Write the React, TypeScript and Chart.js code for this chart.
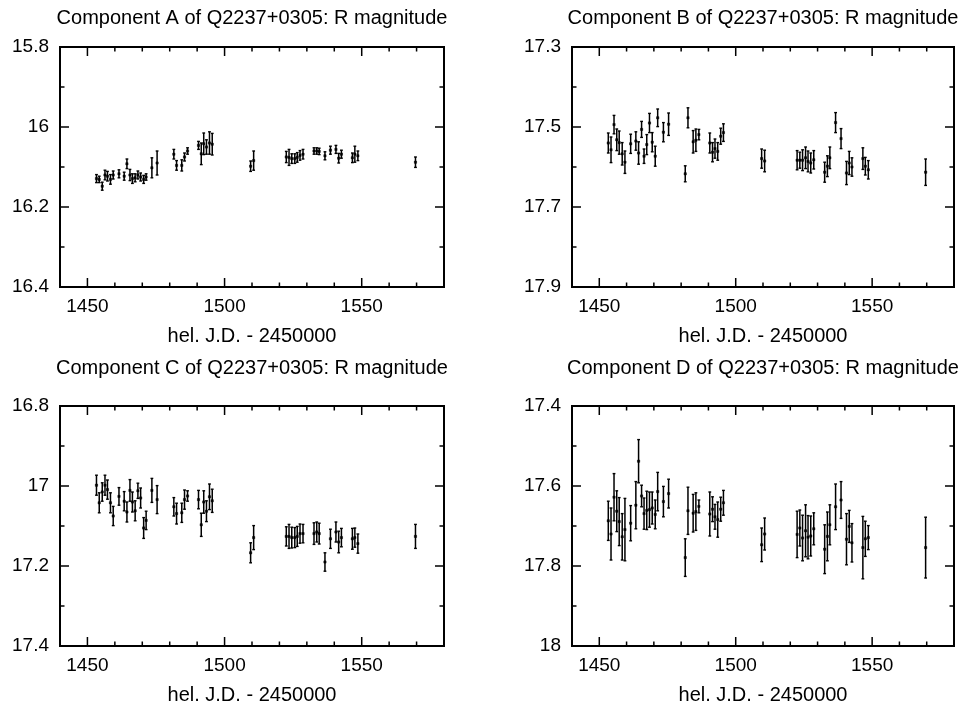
import React, { useEffect, useRef } from "react";
import { Chart, registerables } from "chart.js";
Chart.register(...registerables);

// ---------- data ----------
const jd = [
  1453.3, 1454.3, 1455.4, 1456.4, 1457.3, 1458.4, 1459.4, 1461.5, 1463.4, 1464.4,
  1465.5, 1466.4, 1467.4, 1468.4, 1469.4, 1470.5, 1471.4, 1473.5, 1475.4, 1481.5,
  1482.5, 1484.4, 1485.4, 1486.5, 1490.5, 1491.5, 1492.4, 1493.4, 1494.5, 1495.5,
  1509.5, 1510.6, 1522.5, 1523.5, 1524.5, 1525.6, 1526.5, 1527.5, 1528.6, 1532.6,
  1533.6, 1534.5, 1536.6, 1538.6, 1540.6, 1541.6, 1542.6, 1546.6, 1547.5, 1548.6,
  1569.6,
];

const magA = [
  16.129, 16.131, 16.148, 16.120, 16.123, 16.131, 16.120, 16.117, 16.123, 16.092,
  16.120, 16.129, 16.127, 16.120, 16.125, 16.131, 16.125, 16.102, 16.090, 16.068,
  16.096, 16.096, 16.075, 16.060, 16.046, 16.067, 16.042, 16.050, 16.040, 16.043,
  16.098, 16.084, 16.075, 16.076, 16.079, 16.079, 16.076, 16.071, 16.068, 16.060,
  16.060, 16.061, 16.072, 16.058, 16.056, 16.078, 16.068, 16.077, 16.068, 16.072,
  16.088,
];
const errA = [
  0.010, 0.008, 0.010, 0.012, 0.012, 0.012, 0.010, 0.010, 0.010, 0.012,
  0.014, 0.012, 0.010, 0.010, 0.010, 0.010, 0.008, 0.025, 0.030, 0.012,
  0.012, 0.014, 0.010, 0.008, 0.010, 0.027, 0.027, 0.018, 0.028, 0.027,
  0.013, 0.024, 0.014, 0.020, 0.012, 0.012, 0.012, 0.012, 0.012, 0.008,
  0.008, 0.008, 0.010, 0.010, 0.010, 0.012, 0.010, 0.012, 0.020, 0.012,
  0.013,
];

const magB = [
  17.540, 17.557, 17.494, 17.532, 17.539, 17.567, 17.588, 17.542, 17.535, 17.565,
  17.506, 17.573, 17.544, 17.490, 17.538, 17.573, 17.477, 17.513, 17.493, 17.617,
  17.477, 17.537, 17.533, 17.519, 17.540, 17.563, 17.554, 17.561, 17.523, 17.514,
  17.579, 17.585, 17.583, 17.583, 17.583, 17.577, 17.586, 17.590, 17.582, 17.613,
  17.598, 17.577, 17.489, 17.529, 17.615, 17.590, 17.600, 17.579, 17.598, 17.607,
  17.613,
];
const errB = [
  0.025, 0.032, 0.023, 0.027, 0.029, 0.028, 0.028, 0.024, 0.023, 0.028,
  0.020, 0.018, 0.025, 0.024, 0.024, 0.025, 0.022, 0.024, 0.028, 0.020,
  0.025, 0.028, 0.028, 0.013, 0.025, 0.024, 0.024, 0.022, 0.020, 0.022,
  0.024, 0.027, 0.024, 0.020, 0.026, 0.027, 0.026, 0.025, 0.023, 0.025,
  0.026, 0.027, 0.025, 0.025, 0.029, 0.029, 0.023, 0.027, 0.022, 0.023,
  0.033,
];

const magC = [
  16.998, 17.042, 17.015, 16.998, 17.009, 17.042, 17.075, 17.026, 17.038, 17.065,
  17.011, 17.040, 17.062, 17.012, 17.030, 17.105, 17.086, 17.011, 17.034, 17.052,
  17.069, 17.067, 17.034, 17.025, 17.034, 17.097, 17.040, 17.063, 17.027, 17.037,
  17.167, 17.129, 17.126, 17.126, 17.129, 17.129, 17.126, 17.119, 17.119, 17.119,
  17.115, 17.119, 17.190, 17.132, 17.115, 17.140, 17.129, 17.132, 17.129, 17.144,
  17.126,
];
const errC = [
  0.025, 0.025, 0.023, 0.025, 0.024, 0.025, 0.024, 0.022, 0.024, 0.025,
  0.027, 0.025, 0.025, 0.019, 0.025, 0.026, 0.023, 0.030, 0.035, 0.023,
  0.026, 0.024, 0.024, 0.013, 0.023, 0.029, 0.028, 0.026, 0.032, 0.029,
  0.025, 0.030, 0.024, 0.030, 0.026, 0.025, 0.025, 0.024, 0.023, 0.027,
  0.025, 0.026, 0.023, 0.024, 0.025, 0.027, 0.023, 0.026, 0.024, 0.024,
  0.030,
];

const magD = [
  17.687, 17.720, 17.628, 17.663, 17.689, 17.727, 17.709, 17.693, 17.648, 17.538,
  17.625, 17.669, 17.661, 17.659, 17.655, 17.671, 17.614, 17.639, 17.619, 17.779,
  17.662, 17.668, 17.664, 17.651, 17.670, 17.658, 17.677, 17.684, 17.658, 17.642,
  17.747, 17.720, 17.721, 17.705, 17.730, 17.712, 17.728, 17.725, 17.707, 17.758,
  17.726, 17.697, 17.652, 17.635, 17.733, 17.701, 17.742, 17.754, 17.732, 17.729,
  17.754,
];
const errD = [
  0.049, 0.065, 0.059, 0.051, 0.060, 0.058, 0.078, 0.044, 0.059, 0.054,
  0.027, 0.039, 0.048, 0.044, 0.040, 0.036, 0.048, 0.038, 0.036, 0.047,
  0.059, 0.047, 0.047, 0.016, 0.055, 0.031, 0.031, 0.044, 0.030, 0.031,
  0.042, 0.040, 0.058, 0.045, 0.057, 0.065, 0.054, 0.050, 0.040, 0.061,
  0.061, 0.050, 0.057, 0.046, 0.064, 0.040, 0.048, 0.078, 0.044, 0.030,
  0.076,
];

const xRange = [1440, 1580];
const xTickLabels = [1450, 1500, 1550];
const xMinorStep = 10;

const yTicksA = [15.8, 16, 16.2, 16.4];
const yTicksB = [17.3, 17.5, 17.7, 17.9];
const yTicksC = [16.8, 17, 17.2, 17.4];
const yTicksD = [17.4, 17.6, 17.8, 18];
const yMinorStep = 0.1;

const titles = [
  "Component A of Q2237+0305: R magnitude",
  "Component B of Q2237+0305: R magnitude",
  "Component C of Q2237+0305: R magnitude",
  "Component D of Q2237+0305: R magnitude",
];
const xAxisTitle = "hel. J.D. - 2450000";

// ---------- layout (page pixels) ----------
const FONT = '"Liberation Sans", Arial, Helvetica, sans-serif';
const Y_AXIS_W = 50;
const X_AXIS_H = 61;

type Layout = {
  cx: number; cy: number; cw: number; ch: number;
  L: number; T: number; R: number; B: number; titleY: number;
};

const layouts: Layout[] = [
  { cx: 0, cy: 0, cw: 481, ch: 353, L: 60, T: 47, R: 444, B: 287, titleY: 18.5 },
  { cx: 481, cy: 0, cw: 481, ch: 353, L: 572, T: 47, R: 956, B: 287, titleY: 18.5 },
  { cx: 0, cy: 353, cw: 481, ch: 354, L: 60, T: 406, R: 444, B: 646, titleY: 368.5 },
  { cx: 481, cy: 353, cw: 481, ch: 354, L: 572, T: 406, R: 956, B: 646, titleY: 368.5 },
];

const panelData = [
  { mag: magA, err: errA, yTicks: yTicksA },
  { mag: magB, err: errB, yTicks: yTicksB },
  { mag: magC, err: errC, yTicks: yTicksC },
  { mag: magD, err: errD, yTicks: yTicksD },
];

const framePlugin = {
  id: "frame",
  afterDraw(chart: any, _args: any, opts: any) {
    const { ctx, chartArea } = chart;
    const { left, right, top, bottom } = chartArea;
    const xs = chart.scales.x;
    const ys = chart.scales.y;
    ctx.save();
    ctx.strokeStyle = "#000";
    ctx.lineWidth = 1.5;
    ctx.beginPath();
    xs.ticks.forEach((t: any) => {
      const px = xs.getPixelForValue(t.value);
      const len = t.label ? 9 : 4.5;
      ctx.moveTo(px, bottom);
      ctx.lineTo(px, bottom - len);
      ctx.moveTo(px, top);
      ctx.lineTo(px, top + len);
    });
    ys.ticks.forEach((t: any) => {
      const py = ys.getPixelForValue(t.value);
      const len = t.label ? 9 : 4.5;
      ctx.moveTo(left, py);
      ctx.lineTo(left + len, py);
      ctx.moveTo(right, py);
      ctx.lineTo(right - len, py);
    });
    ctx.stroke();
    ctx.lineWidth = 2;
    ctx.strokeRect(left, top, right - left, bottom - top);
    ctx.fillStyle = "#000";
    ctx.font = `20px ${FONT}`;
    ctx.textAlign = "center";
    ctx.textBaseline = "middle";
    ctx.fillText(opts.title, (left + right) / 2, opts.titleY);
    ctx.restore();
  },
};

function Panel({ idx }: { idx: number }) {
  const ref = useRef<HTMLCanvasElement | null>(null);
  const lay = layouts[idx];
  const pd = panelData[idx];

  useEffect(() => {
    if (!ref.current) return;
    const bars: any[] = [];
    const pts: any[] = [];
    jd.forEach((x, i) => {
      bars.push({ x, y: pd.mag[i] - pd.err[i] });
      bars.push({ x, y: pd.mag[i] + pd.err[i] });
      bars.push({ x, y: null });
      pts.push({ x, y: pd.mag[i] });
    });
    const yMin = pd.yTicks[0];
    const yMax = pd.yTicks[pd.yTicks.length - 1];

    const chart = new Chart(ref.current, {
      type: "line",
      data: {
        datasets: [
          {
            data: bars,
            borderColor: "#000",
            borderWidth: 1.5,
            showLine: true,
            spanGaps: false,
            pointStyle: "line",
            pointRadius: 1.4,
            pointBorderWidth: 1.4,
            pointBorderColor: "#000",
            pointBackgroundColor: "#000",
          },
          {
            data: pts,
            showLine: false,
            pointStyle: "rect",
            pointRadius: 1.6,
            pointBorderWidth: 0.5,
            pointBorderColor: "#000",
            pointBackgroundColor: "#000",
          },
        ],
      } as any,
      options: {
        animation: false,
        responsive: false,
        events: [],
        layout: {
          padding: {
            left: lay.L - lay.cx - Y_AXIS_W,
            top: lay.T - lay.cy,
            right: lay.cx + lay.cw - lay.R,
            bottom: lay.cy + lay.ch - lay.B - X_AXIS_H,
          },
        },
        plugins: {
          legend: { display: false },
          tooltip: { enabled: false },
          title: { display: false },
          frame: { title: titles[idx], titleY: lay.titleY - lay.cy },
        } as any,
        scales: {
          x: {
            type: "linear",
            min: xRange[0],
            max: xRange[1],
            grid: { display: false, drawTicks: false },
            border: { display: false },
            afterBuildTicks: (scale: any) => {
              const t: any[] = [];
              for (let v = xRange[0]; v <= xRange[1] + 1e-9; v += xMinorStep) t.push({ value: v });
              scale.ticks = t;
            },
            afterFit: (scale: any) => {
              scale.height = X_AXIS_H;
            },
            ticks: {
              autoSkip: false,
              maxRotation: 0,
              padding: 8,
              color: "#000",
              font: { family: FONT, size: 19 },
              callback: (v: any) => (xTickLabels.some((m) => Math.abs(m - v) < 1e-6) ? String(v) : ""),
            },
            title: {
              display: true,
              text: xAxisTitle,
              color: "#000",
              font: { family: FONT, size: 20 },
              padding: 0,
            },
          },
          y: {
            type: "linear",
            reverse: true,
            min: yMin,
            max: yMax,
            grid: { display: false, drawTicks: false },
            border: { display: false },
            afterBuildTicks: (scale: any) => {
              const t: any[] = [];
              const n = Math.round((yMax - yMin) / yMinorStep);
              for (let k = 0; k <= n; k++) t.push({ value: Math.round((yMin + k * yMinorStep) * 10) / 10 });
              scale.ticks = t;
            },
            afterFit: (scale: any) => {
              scale.width = Y_AXIS_W;
            },
            ticks: {
              autoSkip: false,
              padding: 11,
              color: "#000",
              font: { family: FONT, size: 19 },
              callback: (v: any) => {
                const m = pd.yTicks.find((q) => Math.abs(q - v) < 1e-6);
                return m === undefined ? "" : String(m);
              },
            },
          },
        },
      } as any,
      plugins: [framePlugin as any],
    });
    return () => chart.destroy();
  }, []);

  return (
    <canvas
      ref={ref}
      width={lay.cw}
      height={lay.ch}
      style={{ position: "absolute", left: lay.cx, top: lay.cy, width: lay.cw, height: lay.ch }}
    />
  );
}

export default function App() {
  return (
    <div style={{ position: "absolute", left: 0, top: 0, width: 962, height: 707, background: "#fff" }}>
      {[0, 1, 2, 3].map((i) => (
        <Panel key={i} idx={i} />
      ))}
    </div>
  );
}
